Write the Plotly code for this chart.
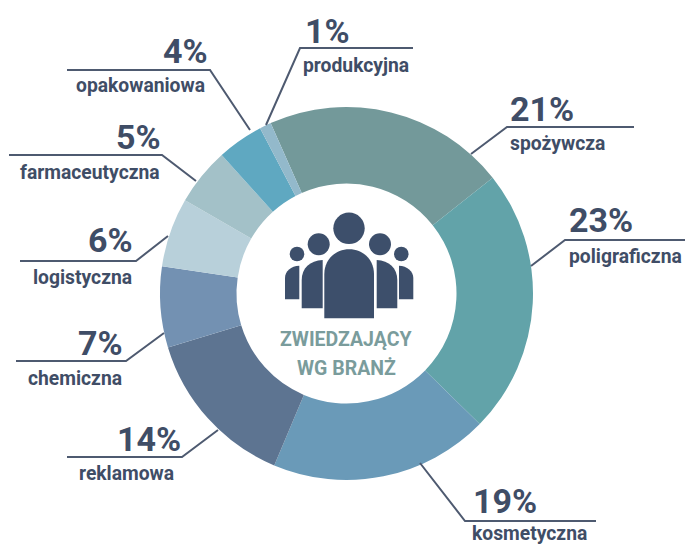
import plotly.graph_objects as go

categories = ["spożywcza", "poligraficzna", "kosmetyczna", "reklamowa", "chemiczna",
              "logistyczna", "farmaceutyczna", "opakowaniowa", "produkcyjna"]
values = [21, 23, 19, 14, 7, 6, 5, 4, 1]
colors = ["#73999A", "#62A3A9", "#6A9AB8", "#5D7491", "#7391B2",
          "#B8D0DA", "#A3C1C8", "#5FA8C1", "#93B9CB"]
center_title = ["ZWIEDZAJĄCY", "WG BRANŻ"]

W, H = 685, 544
FONT = "Roboto"
INK = "#3F4D66"
LINE = "#4E5A70"
TEAL = "#7A9C9C"
ICON = "#3D4F6B"

def px(x): return x / W
def py(y): return 1 - y / H

# percent (left x, centre y), name (left x, centre y), leader polyline
placement = {
    "spożywcza": ((510, 109), (510, 144), [(634, 127), (507, 127), (471, 154)]),
    "poligraficzna": ((569, 220), (569, 256), [(685, 240), (565, 240), (531, 266)]),
    "kosmetyczna": ((473, 501), (472, 533), [(596, 521), (465, 521), (420, 463)]),
    "reklamowa": ((117, 439), (79, 473), [(67, 457), (182, 457), (218, 430)]),
    "chemiczna": ((78, 343), (28, 378), [(16, 361), (126, 361), (164, 333)]),
    "logistyczna": ((88, 240), (33, 277), [(20, 261), (136, 261), (168, 236)]),
    "farmaceutyczna": ((116, 137), (20, 172), [(9, 155), (162, 155), (196, 181)]),
    "opakowaniowa": ((163, 51), (76, 85), [(67, 70), (210, 70), (250, 130)]),
    "produkcyjna": ((305, 31), (303, 65), [(413, 48), (300, 48), (266, 125)]),
}

fig = go.Figure(go.Pie(
    labels=categories, values=values, sort=False, direction="clockwise",
    rotation=336, hole=110 / 186.5, textinfo="none", hoverinfo="label+percent",
    marker=dict(colors=colors, line=dict(width=0)),
    domain=dict(x=[px(160), px(533)], y=[py(480), py(107)]),
    showlegend=False,
))

annotations = []
shapes = []

def text(x, y, s, size, color=INK, anchor="left"):
    annotations.append(dict(x=px(x), y=py(y), xref="paper", yref="paper", text=f"<b>{s}</b>",
                            showarrow=False, xanchor=anchor, yanchor="middle",
                            font=dict(family=FONT, size=size, color=color),
                            borderpad=0, borderwidth=0))

def path(points, close=False):
    parts = []
    for i, p in enumerate(points):
        if len(p) == 2:
            parts.append(("M" if i == 0 else "L") + f"{px(p[0]):.5f},{py(p[1]):.5f}")
        else:
            parts.append("C" + " ".join(f"{px(p[j]):.5f},{py(p[j+1]):.5f}" for j in (0, 2, 4)))
    return " ".join(parts) + (" Z" if close else "")

for cat, val in zip(categories, values):
    pct, name, leader = placement[cat]
    text(pct[0], pct[1], f"{val}%", 34)
    text(name[0], name[1], cat, 19.3)
    shapes.append(dict(type="path", xref="paper", yref="paper", path=path(leader),
                       line=dict(color=LINE, width=2), fillcolor="rgba(0,0,0,0)"))

text(346.5, 339, center_title[0], 19.5, TEAL, "center")
text(346.5, 368, center_title[1], 19.5, TEAL, "center")

def head(cx, cy, r):
    shapes.append(dict(type="circle", xref="paper", yref="paper", x0=px(cx - r), x1=px(cx + r),
                       y0=py(cy + r), y1=py(cy - r), fillcolor=ICON, line=dict(width=0)))

def body(points):
    shapes.append(dict(type="path", xref="paper", yref="paper", path=path(points, True),
                       fillcolor=ICON, line=dict(width=0)))

head(349, 228.3, 15.7)
head(318.7, 244.3, 11); head(380, 244.3, 11)
head(297, 254, 7.3); head(401.3, 254, 7.3)
body([(324.3, 318.3), (324.3, 274), (324.3, 260, 335, 249.3, 349.2, 249.3),
      (363.5, 249.3, 374, 260, 374, 274), (374, 318.3)])
body([(301.7, 308.3), (301.7, 280), (301.7, 268, 310, 260.5, 322.7, 260), (322.7, 308.3)])
body([(397.3, 308.3), (397.3, 280), (397.3, 268, 389, 260.5, 376.7, 260), (376.7, 308.3)])
body([(285, 299.3), (285, 278), (285, 271, 291, 266, 299.3, 265.7), (299.3, 299.3)])
body([(413.3, 299.3), (413.3, 278), (413.3, 271, 407, 266, 399, 265.7), (399, 299.3)])

fig.update_layout(width=W, height=H, autosize=False, margin=dict(l=0, r=0, t=0, b=0, pad=0),
                  paper_bgcolor="white", plot_bgcolor="white",
                  annotations=annotations, shapes=shapes)
fig.write_html("out.html", config=dict(displayModeBar=False),
               post_script="document.body.style.margin='0';document.documentElement.style.overflow='hidden';")
